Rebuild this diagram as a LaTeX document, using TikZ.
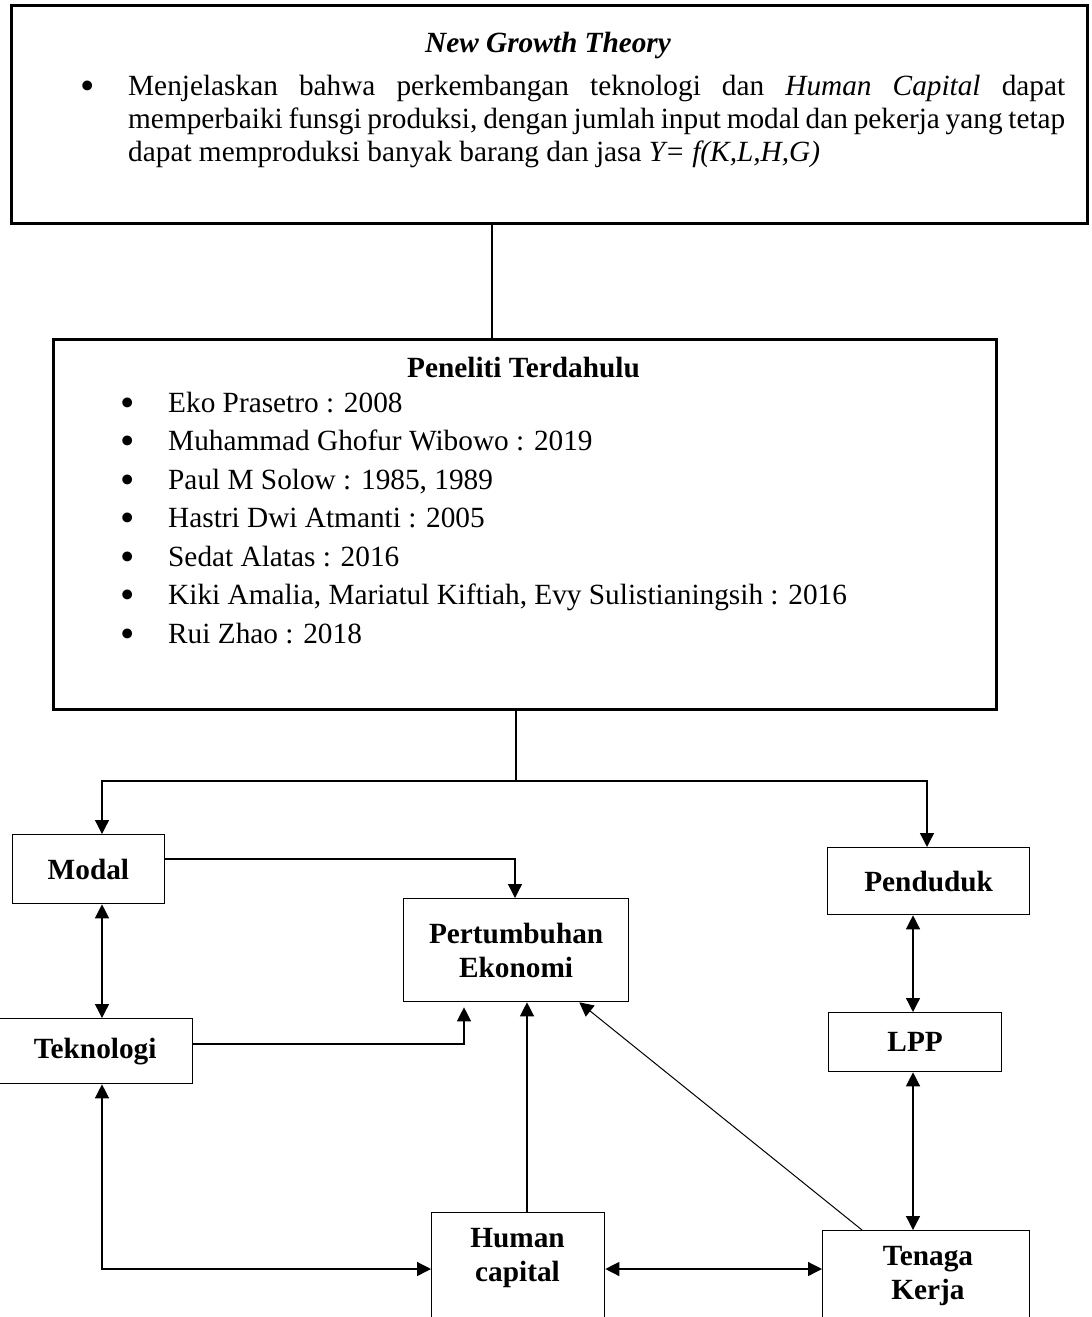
\documentclass[tikz,border=0pt]{standalone}
\usepackage{fontspec}
\usepackage{graphicx}
\setmainfont{Liberation Serif}
\usetikzlibrary{arrows.meta}

% list bullet, a little larger than the text bullet and centred on the x-height
\newcommand\itemdot{\llap{\raisebox{-4pt}{\fontsize{41}{41}\selectfont\textbullet}\hspace{33.8pt}}}

\begin{document}
\begin{tikzpicture}[x=1pt,y=-1pt,
  every node/.style={font=\fontsize{29.3}{34}\selectfont},
  bigbox/.style={draw, line width=2.6pt, inner sep=0pt, anchor=north west},
  smallbox/.style={draw, line width=1.3pt, inner sep=0pt, anchor=north west,
    align=center, font=\fontsize{29.3}{34}\selectfont\bfseries},
  boxtext/.style={inner sep=0pt, align=center, font=\fontsize{29.3}{34}\selectfont\bfseries},
  txt/.style={inner sep=0pt, anchor=base west},
  link/.style={line width=1.3pt},
  tip/.style={link, -{Triangle[length=14pt,width=14pt]}},
  both/.style={link, {Triangle[length=14pt,width=14pt]}-{Triangle[length=14pt,width=14pt]}}
]
\path[use as bounding box] (0,0) rectangle (1092,1317);
\clip (0,0) rectangle (1092,1317);

% --- theory box ---
\node[bigbox, minimum width=1076pt, minimum height=218pt] (theory) at (10,4) {};
\node[inner sep=0pt, anchor=base, font=\fontsize{29.3}{34}\selectfont\bfseries\itshape]
  (theoryTitle) at (548,52) {New Growth Theory};
\node[txt] (theoryL1) at (128,95)
  {\itemdot\makebox[937pt][s]{Menjelaskan bahwa perkembangan teknologi dan \textit{Human Capital} dapat}};
\node[txt] (theoryL2) at (128,128)
  {\makebox[937pt][s]{memperbaiki funsgi produksi, dengan jumlah input modal dan pekerja yang tetap}};
\node[txt] (theoryL3) at (128,161)
  {dapat memproduksi banyak barang dan jasa \textit{Y= f(K,L,H,G)}};

% --- previous research box ---
\node[bigbox, minimum width=943pt, minimum height=370pt] (pen) at (52,338) {};
\node[inner sep=0pt, anchor=base, font=\fontsize{29.3}{34}\selectfont\bfseries]
  (penTitle) at (523.5,377) {Peneliti Terdahulu};
\foreach \t [count=\i from 0] in {
    Eko Prasetro : 2008,
    Muhammad Ghofur Wibowo : 2019,
    {Paul M Solow : 1985, 1989},
    Hastri Dwi Atmanti : 2005,
    Sedat Alatas : 2016,
    {Kiki Amalia, Mariatul Kiftiah, Evy Sulistianingsih : 2016},
    Rui Zhao : 2018}
  \node[txt] (penItem\i) at (168,412+38.5*\i) {\itemdot\t};

% --- variable boxes ---
\node[smallbox, minimum width=152.5pt, minimum height=69pt] (modal) at (11.5,834) {Modal};
\node[smallbox, minimum width=225pt, minimum height=103pt] (pert) at (403,898) {Pertumbuhan\\Ekonomi};
\node[smallbox, minimum width=195pt, minimum height=65pt] (tekno) at (-3,1018) {Teknologi};
\node[smallbox, minimum width=202pt, minimum height=67pt] (pend) at (827,847) {Penduduk};
\node[smallbox, minimum width=173pt, minimum height=59pt] (lpp) at (828,1012) {LPP};
\node[smallbox, minimum width=173pt, minimum height=140pt] (human) at (431,1212) {};
\node[boxtext] (humanText) at (517.5,1258.5) {Human\\capital};
\node[smallbox, minimum width=207pt, minimum height=120pt] (tenaga) at (822,1230) {};
\node[boxtext] (tenagaText) at (928,1276) {Tenaga\\Kerja};

% --- routing points ---
\coordinate (trunk) at (492,280);
\coordinate (split) at (516,781);
\coordinate (colL) at (102,781);
\coordinate (colR) at (927,781);
\coordinate (mp) at (515,859);
\coordinate (tp) at (464,1044);
\coordinate (th) at (102,1269);
\coordinate (hp) at (527,1100);
\coordinate (colP) at (913,960);

% --- connectors ---
\draw[link] (theory.south -| trunk) -- (pen.north -| trunk);
\draw[link] (pen.south -| split) -- (split);
\draw[tip] (split) -- (colL) -- (modal.north -| colL);
\draw[tip] (split) -- (colR) -- (pend.north -| colR);
\draw[tip] (modal.east |- mp) -- (mp) -- (pert.north -| mp);
\draw[both] (modal.south -| colL) -- (tekno.north -| colL);
\draw[tip, shorten >=5pt] (tekno.east |- tp) -- (tp) -- (pert.south -| tp);
\draw[both] (tekno.south -| th) -- (th) -- (human.west |- th);
\draw[tip] (human.north -| hp) -- (pert.south -| hp);
\draw[both] (human.east |- th) -- (tenaga.west |- th);
\draw[line width=1pt, -{Triangle[length=14pt,width=14pt]}]
  ([xshift=40pt]tenaga.north west) -- ([xshift=-50pt]pert.south east);
\draw[both] (pend.south -| colP) -- (lpp.north -| colP);
\draw[both] (lpp.south -| colP) -- (tenaga.north -| colP);
\end{tikzpicture}
\end{document}
